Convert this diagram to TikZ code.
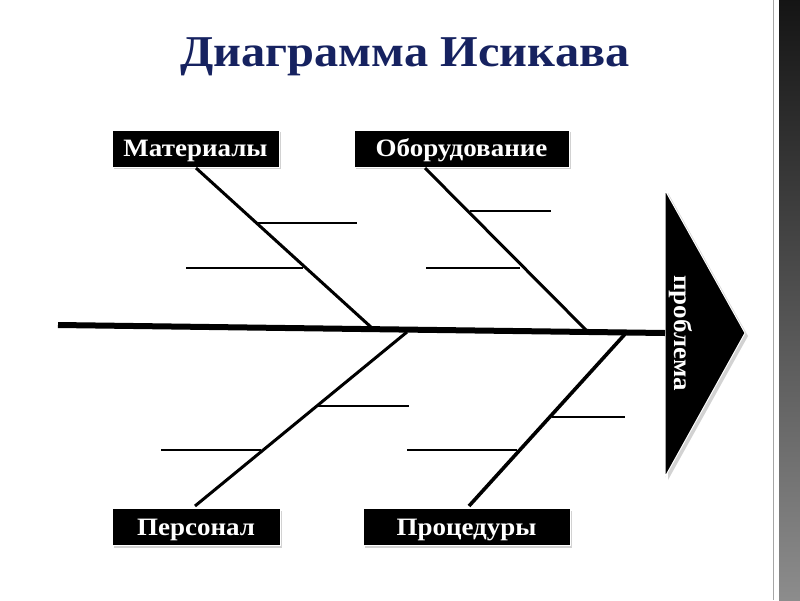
\documentclass[tikz,border=0pt]{standalone}
\usepackage{fontspec}
\setmainfont{Liberation Serif}
\usetikzlibrary{shadows}
\definecolor{navy}{RGB}{22,34,96}
\newcommand{\boxtext}[1]{\scalebox{1.08}[1]{#1}}
\tikzset{
  catbox/.style={draw=white, line width=0.6pt, fill=black, text=white,
    font=\bfseries\fontsize{25}{27}\selectfont, inner sep=0pt,
    minimum height=37pt, text height=18pt, text depth=2pt,
    drop shadow={shadow xshift=2pt, shadow yshift=-2pt, opacity=0.35}},
  spine/.style={line width=6pt},
  bone/.style={line width=3pt},
  twig/.style={line width=2pt},
}
\begin{document}
\begin{tikzpicture}[x=1pt,y=-1pt]
\useasboundingbox (0,0) rectangle (800,600);
\fill[white] (0,0) rectangle (800,600);
% right decorative strip
\shade[top color=black!92, bottom color=black!45] (779,0) rectangle (800,600);
\draw[black!35, line width=1.2pt] (773.5,0) -- (773.5,600);

% title
\node[text=navy, font=\bfseries\fontsize{44}{48}\selectfont] (title) at (405,57) {\scalebox{1.1}[1]{Диаграмма Исикава}};

% category boxes
\node[catbox, minimum width=167pt] (mat) at (195.5,148.5) {\boxtext{Материалы}};
\node[catbox, minimum width=215pt] (obo) at (461.5,148.5) {\boxtext{Оборудование}};
\node[catbox, minimum width=168pt] (per) at (196,527) {\boxtext{Персонал}};
\node[catbox, minimum width=207pt] (pro) at (466.5,527) {\boxtext{Процедуры}};

% problem head
\fill[black!35, opacity=0.5] (668,193) -- (748,336) -- (668,480) -- cycle;
\filldraw[fill=black, draw=white, line width=1pt] (665,190) -- (745,333) -- (665,477) -- cycle;
\node[rotate=-90, text=white, font=\bfseries\fontsize{25}{27}\selectfont, inner sep=0pt, text height=18pt, text depth=2pt] (prob) at (682,333) {\boxtext{проблема}};
\coordinate (head) at (665,333);

% spine
\coordinate (tail) at (58,325);
\draw[spine] (tail) -- (head);

% junctions on spine
\coordinate (j1) at (372,328);
\coordinate (j2) at (587,331);
\coordinate (j3) at (407,332);
\coordinate (j4) at (626,333);

% bones
\coordinate (b1) at (196,168);
\coordinate (b2) at (425,168);
\coordinate (b3) at (195,506);
\coordinate (b4) at (469,506);
\draw[bone] (b1) -- (j1);
\draw[bone] (b2) -- (j2);
\draw[bone] (j3) -- (b3);
\draw[bone, line width=3.6pt] (j4) -- (b4);

% twigs
\coordinate (t1a) at (258,223); \coordinate (t1b) at (357,223);
\coordinate (t2a) at (186,268); \coordinate (t2b) at (303,268);
\draw[twig] (t1a) -- (t1b);
\draw[twig] (t2a) -- (t2b);
\coordinate (t3a) at (470,211); \coordinate (t3b) at (551,211);
\coordinate (t4a) at (426,268); \coordinate (t4b) at (520,268);
\draw[twig] (t3a) -- (t3b);
\draw[twig] (t4a) -- (t4b);
\coordinate (t5a) at (317,406); \coordinate (t5b) at (409,406);
\coordinate (t6a) at (161,450); \coordinate (t6b) at (261,450);
\draw[twig] (t5a) -- (t5b);
\draw[twig] (t6a) -- (t6b);
\coordinate (t7a) at (552,417); \coordinate (t7b) at (625,417);
\coordinate (t8a) at (407,450); \coordinate (t8b) at (517,450);
\draw[twig] (t7a) -- (t7b);
\draw[twig] (t8a) -- (t8b);
\end{tikzpicture}
\end{document}
